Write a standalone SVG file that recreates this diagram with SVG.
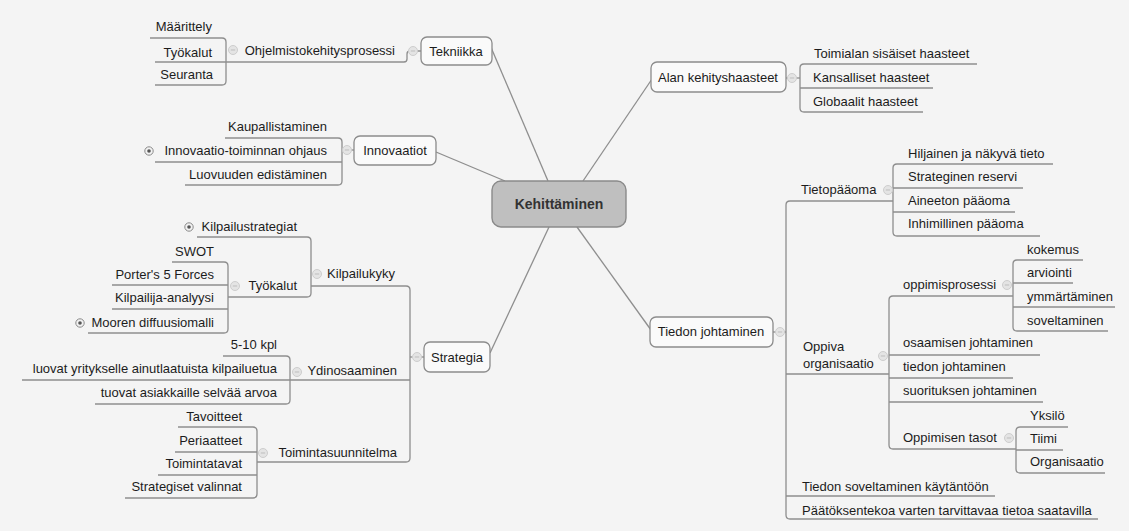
<svg xmlns="http://www.w3.org/2000/svg" xmlns:xlink="http://www.w3.org/1999/xlink" width="1129" height="531" viewBox="0 0 1129 531">
  <defs>
    <style>
      .ln { fill: none; stroke: #8e8e8e; stroke-width: 1.3; }
      .box { fill: #fafafa; stroke: #8c8c8c; stroke-width: 1.3; }
      .root { fill: #bfbfbf; stroke: #8a8a8a; stroke-width: 1.4; }
      text { font-family: "Liberation Sans", Arial, sans-serif; font-size: 13px; fill: #1c1c1c; }
      .r { text-anchor: end; }
      .c { text-anchor: middle; }
      .rootlbl { font-size: 14px; font-weight: bold; fill: #333333; }
    </style>
    <!-- collapse toggle: faint circle with a minus -->
    <g id="minus">
      <circle r="4.5" fill="#e4e4e4" stroke="#cdcdcd" stroke-width="1"/>
      <line x1="-2.2" y1="0" x2="2.2" y2="0" stroke="#bdbdbd" stroke-width="1"/>
    </g>
    <!-- expand toggle: circle with a dark centre -->
    <g id="plus">
      <circle r="4.2" fill="#f2f2f2" stroke="#8a8a8a" stroke-width="1"/>
      <circle r="1.8" fill="#555555"/>
    </g>
  </defs>

  <rect width="1129" height="531" fill="#f4f4f4"/>

  <!-- connectors -->
  <g id="connectors">
    <!-- spokes from the central topic -->
    <line class="ln" x1="490" y1="45" x2="548" y2="181"/>
    <line class="ln" x1="652" y1="79" x2="583" y2="181"/>
    <line class="ln" x1="436" y1="152" x2="505" y2="181"/>
    <line class="ln" x1="490" y1="353" x2="549" y2="227"/>
    <line class="ln" x1="577" y1="227" x2="651" y2="330"/>

    <!-- Tekniikka -->
    <path class="ln" d="M421,51 H410 Q407,51 407,54 V59 Q407,62 404,62 H155"/>
    <path class="ln" d="M150,38 H222 Q226,38 226,42 V81 Q226,85 222,85 H155"/>

    <!-- Innovaatiot -->
    <path class="ln" d="M354,150 H342"/>
    <path class="ln" d="M225,138 H338 Q342,138 342,142 V181 Q342,185 338,185 H185"/>
    <path class="ln" d="M155,162 H342"/>

    <!-- Alan kehityshaasteet -->
    <path class="ln" d="M786,78 H800"/>
    <path class="ln" d="M977,64 H804 Q800,64 800,68 V108 Q800,112 804,112 H923"/>
    <path class="ln" d="M800,88 H933"/>

    <!-- Tiedon johtaminen -->
    <path class="ln" d="M773,332 H786"/>
    <path class="ln" d="M893,201 H790 Q786,201 786,205 V515 Q786,519 790,519 H1098"/>
    <path class="ln" d="M786,374 H889"/>
    <path class="ln" d="M786,496 H995"/>
    <!-- Tietopääoma -->
    <path class="ln" d="M1053,164 H897 Q893,164 893,168 V232 Q893,236 897,236 H1040"/>
    <path class="ln" d="M893,188 H1023"/>
    <path class="ln" d="M893,212 H1015"/>
    <!-- Oppiva organisaatio -->
    <path class="ln" d="M1013,296 H893 Q889,296 889,300 V445 Q889,449 893,449 H1016"/>
    <path class="ln" d="M889,355 H1040"/>
    <path class="ln" d="M889,378 H1013"/>
    <path class="ln" d="M889,402 H1043"/>
    <!-- oppimisprosessi -->
    <path class="ln" d="M1083,260 H1017 Q1013,260 1013,264 V327 Q1013,331 1017,331 H1108"/>
    <path class="ln" d="M1013,283 H1073"/>
    <path class="ln" d="M1013,307 H1115"/>
    <!-- Oppimisen tasot -->
    <path class="ln" d="M1068,427 H1020 Q1016,427 1016,431 V469 Q1016,473 1020,473 H1105"/>
    <path class="ln" d="M1016,450 H1063"/>

    <!-- Strategia -->
    <path class="ln" d="M424,357 H410"/>
    <path class="ln" d="M311,286 H406 Q410,286 410,290 V458 Q410,462 406,462 H257"/>
    <path class="ln" d="M290,380 H410"/>
    <!-- Kilpailukyky -->
    <path class="ln" d="M197,237 H307 Q311,237 311,241 V293 Q311,297 307,297 H228"/>
    <!-- Työkalut -->
    <path class="ln" d="M172,262 H224 Q228,262 228,266 V329 Q228,333 224,333 H88"/>
    <path class="ln" d="M112,285 H228"/>
    <path class="ln" d="M112,309 H228"/>
    <!-- Ydinosaaminen -->
    <path class="ln" d="M223,356 H286 Q290,356 290,360 V400 Q290,404 286,404 H95"/>
    <path class="ln" d="M22,380 H290"/>
    <!-- Toimintasuunnitelma -->
    <path class="ln" d="M178,427 H253 Q257,427 257,431 V494 Q257,498 253,498 H125"/>
    <path class="ln" d="M175,452 H257"/>
    <path class="ln" d="M158,475 H257"/>
  </g>

  <!-- central topic -->
  <g id="kehittaminen">
    <rect class="root" x="492" y="181" width="134" height="46" rx="9"/>
    <text class="c rootlbl" x="559" y="209">Kehittäminen</text>
  </g>

  <!-- main topics -->
  <g id="tekniikka">
    <rect class="box" x="421" y="37" width="71" height="28" rx="6"/>
    <text class="c" x="456" y="56">Tekniikka</text>
    <use xlink:href="#minus" x="413" y="51"/>
  </g>
  <g id="alan-kehityshaasteet">
    <rect class="box" x="651" y="62" width="135" height="30" rx="6"/>
    <text class="c" x="718" y="82">Alan kehityshaasteet</text>
    <use xlink:href="#minus" x="792" y="78"/>
  </g>
  <g id="innovaatiot">
    <rect class="box" x="354" y="136" width="82" height="29" rx="6"/>
    <text class="c" x="395" y="155">Innovaatiot</text>
    <use xlink:href="#minus" x="347" y="150"/>
  </g>
  <g id="strategia">
    <rect class="box" x="424" y="342" width="66" height="30" rx="6"/>
    <text class="c" x="457" y="362">Strategia</text>
    <use xlink:href="#minus" x="417" y="357"/>
  </g>
  <g id="tiedon-johtaminen">
    <rect class="box" x="650" y="317" width="123" height="30" rx="6"/>
    <text class="c" x="711" y="336">Tiedon johtaminen</text>
    <use xlink:href="#minus" x="780" y="332"/>
  </g>

  <!-- Tekniikka subtopics -->
  <g id="ohjelmistokehitysprosessi">
    <text class="r" x="395" y="55">Ohjelmistokehitysprosessi</text>
    <use xlink:href="#minus" x="233" y="50"/>
  </g>
  <g id="maarittely"><text class="r" x="212" y="31">Määrittely</text></g>
  <g id="tyokalut-1"><text class="r" x="212" y="57">Työkalut</text></g>
  <g id="seuranta"><text class="r" x="213" y="79">Seuranta</text></g>

  <!-- Innovaatiot subtopics -->
  <g id="kaupallistaminen"><text class="r" x="327" y="131">Kaupallistaminen</text></g>
  <g id="innovaatio-toiminnan-ohjaus">
    <text class="r" x="327" y="155">Innovaatio-toiminnan ohjaus</text>
    <use xlink:href="#plus" x="149" y="151"/>
  </g>
  <g id="luovuuden-edistaminen"><text class="r" x="327" y="179">Luovuuden edistäminen</text></g>

  <!-- Alan kehityshaasteet subtopics -->
  <g id="toimialan-sisaiset"><text x="814" y="58">Toimialan sisäiset haasteet</text></g>
  <g id="kansalliset"><text x="813" y="82">Kansalliset haasteet</text></g>
  <g id="globaalit"><text x="813" y="106">Globaalit haasteet</text></g>

  <!-- Tiedon johtaminen subtopics -->
  <g id="tietopaaoma">
    <text x="801" y="194">Tietopääoma</text>
    <use xlink:href="#minus" x="888" y="190"/>
  </g>
  <g id="hiljainen"><text x="908" y="158">Hiljainen ja näkyvä tieto</text></g>
  <g id="strateginen-reservi"><text x="908" y="181">Strateginen reservi</text></g>
  <g id="aineeton"><text x="908" y="205">Aineeton pääoma</text></g>
  <g id="inhimillinen"><text x="908" y="228">Inhimillinen pääoma</text></g>

  <g id="oppiva-organisaatio">
    <text x="803" y="351">Oppiva</text>
    <text x="803" y="368">organisaatio</text>
    <use xlink:href="#minus" x="883" y="356"/>
  </g>
  <g id="oppimisprosessi">
    <text x="903" y="289">oppimisprosessi</text>
    <use xlink:href="#minus" x="1007" y="285"/>
  </g>
  <g id="kokemus"><text x="1027" y="254">kokemus</text></g>
  <g id="arviointi"><text x="1027" y="277">arviointi</text></g>
  <g id="ymmartaminen"><text x="1027" y="301">ymmärtäminen</text></g>
  <g id="soveltaminen"><text x="1027" y="325">soveltaminen</text></g>
  <g id="osaamisen-johtaminen"><text x="903" y="347">osaamisen johtaminen</text></g>
  <g id="tiedon-johtaminen-2"><text x="903" y="371">tiedon johtaminen</text></g>
  <g id="suorituksen-johtaminen"><text x="903" y="395">suorituksen johtaminen</text></g>
  <g id="oppimisen-tasot">
    <text x="903" y="442">Oppimisen tasot</text>
    <use xlink:href="#minus" x="1009" y="438"/>
  </g>
  <g id="yksilo"><text x="1030" y="420">Yksilö</text></g>
  <g id="tiimi"><text x="1030" y="443">Tiimi</text></g>
  <g id="organisaatio"><text x="1030" y="466">Organisaatio</text></g>
  <g id="tiedon-soveltaminen"><text x="802" y="491">Tiedon soveltaminen käytäntöön</text></g>
  <g id="paatoksentekoa"><text x="802" y="515">Päätöksentekoa varten tarvittavaa tietoa saatavilla</text></g>

  <!-- Strategia subtopics -->
  <g id="kilpailukyky">
    <text class="r" x="395" y="278">Kilpailukyky</text>
    <use xlink:href="#minus" x="317" y="274"/>
  </g>
  <g id="kilpailustrategiat">
    <text class="r" x="297" y="231">Kilpailustrategiat</text>
    <use xlink:href="#plus" x="189" y="227"/>
  </g>
  <g id="tyokalut-2">
    <text class="r" x="297" y="290">Työkalut</text>
    <use xlink:href="#minus" x="235" y="286"/>
  </g>
  <g id="swot"><text class="r" x="214" y="256">SWOT</text></g>
  <g id="porter"><text class="r" x="214" y="279">Porter's 5 Forces</text></g>
  <g id="kilpailija-analyysi"><text class="r" x="214" y="302">Kilpailija-analyysi</text></g>
  <g id="mooren">
    <text class="r" x="214" y="327">Mooren diffuusiomalli</text>
    <use xlink:href="#plus" x="80" y="323"/>
  </g>

  <g id="ydinosaaminen">
    <text class="r" x="397" y="375">Ydinosaaminen</text>
    <use xlink:href="#minus" x="297" y="372"/>
  </g>
  <g id="kpl"><text class="r" x="277" y="349">5-10 kpl</text></g>
  <g id="luovat"><text class="r" x="277" y="373">luovat yritykselle ainutlaatuista kilpailuetua</text></g>
  <g id="tuovat"><text class="r" x="277" y="397">tuovat asiakkaille selvää arvoa</text></g>

  <g id="toimintasuunnitelma">
    <text class="r" x="397" y="457">Toimintasuunnitelma</text>
    <use xlink:href="#minus" x="263" y="453"/>
  </g>
  <g id="tavoitteet"><text class="r" x="242" y="421">Tavoitteet</text></g>
  <g id="periaatteet"><text class="r" x="242" y="445">Periaatteet</text></g>
  <g id="toimintatavat"><text class="r" x="242" y="468">Toimintatavat</text></g>
  <g id="strategiset-valinnat"><text class="r" x="242" y="491">Strategiset valinnat</text></g>
</svg>
